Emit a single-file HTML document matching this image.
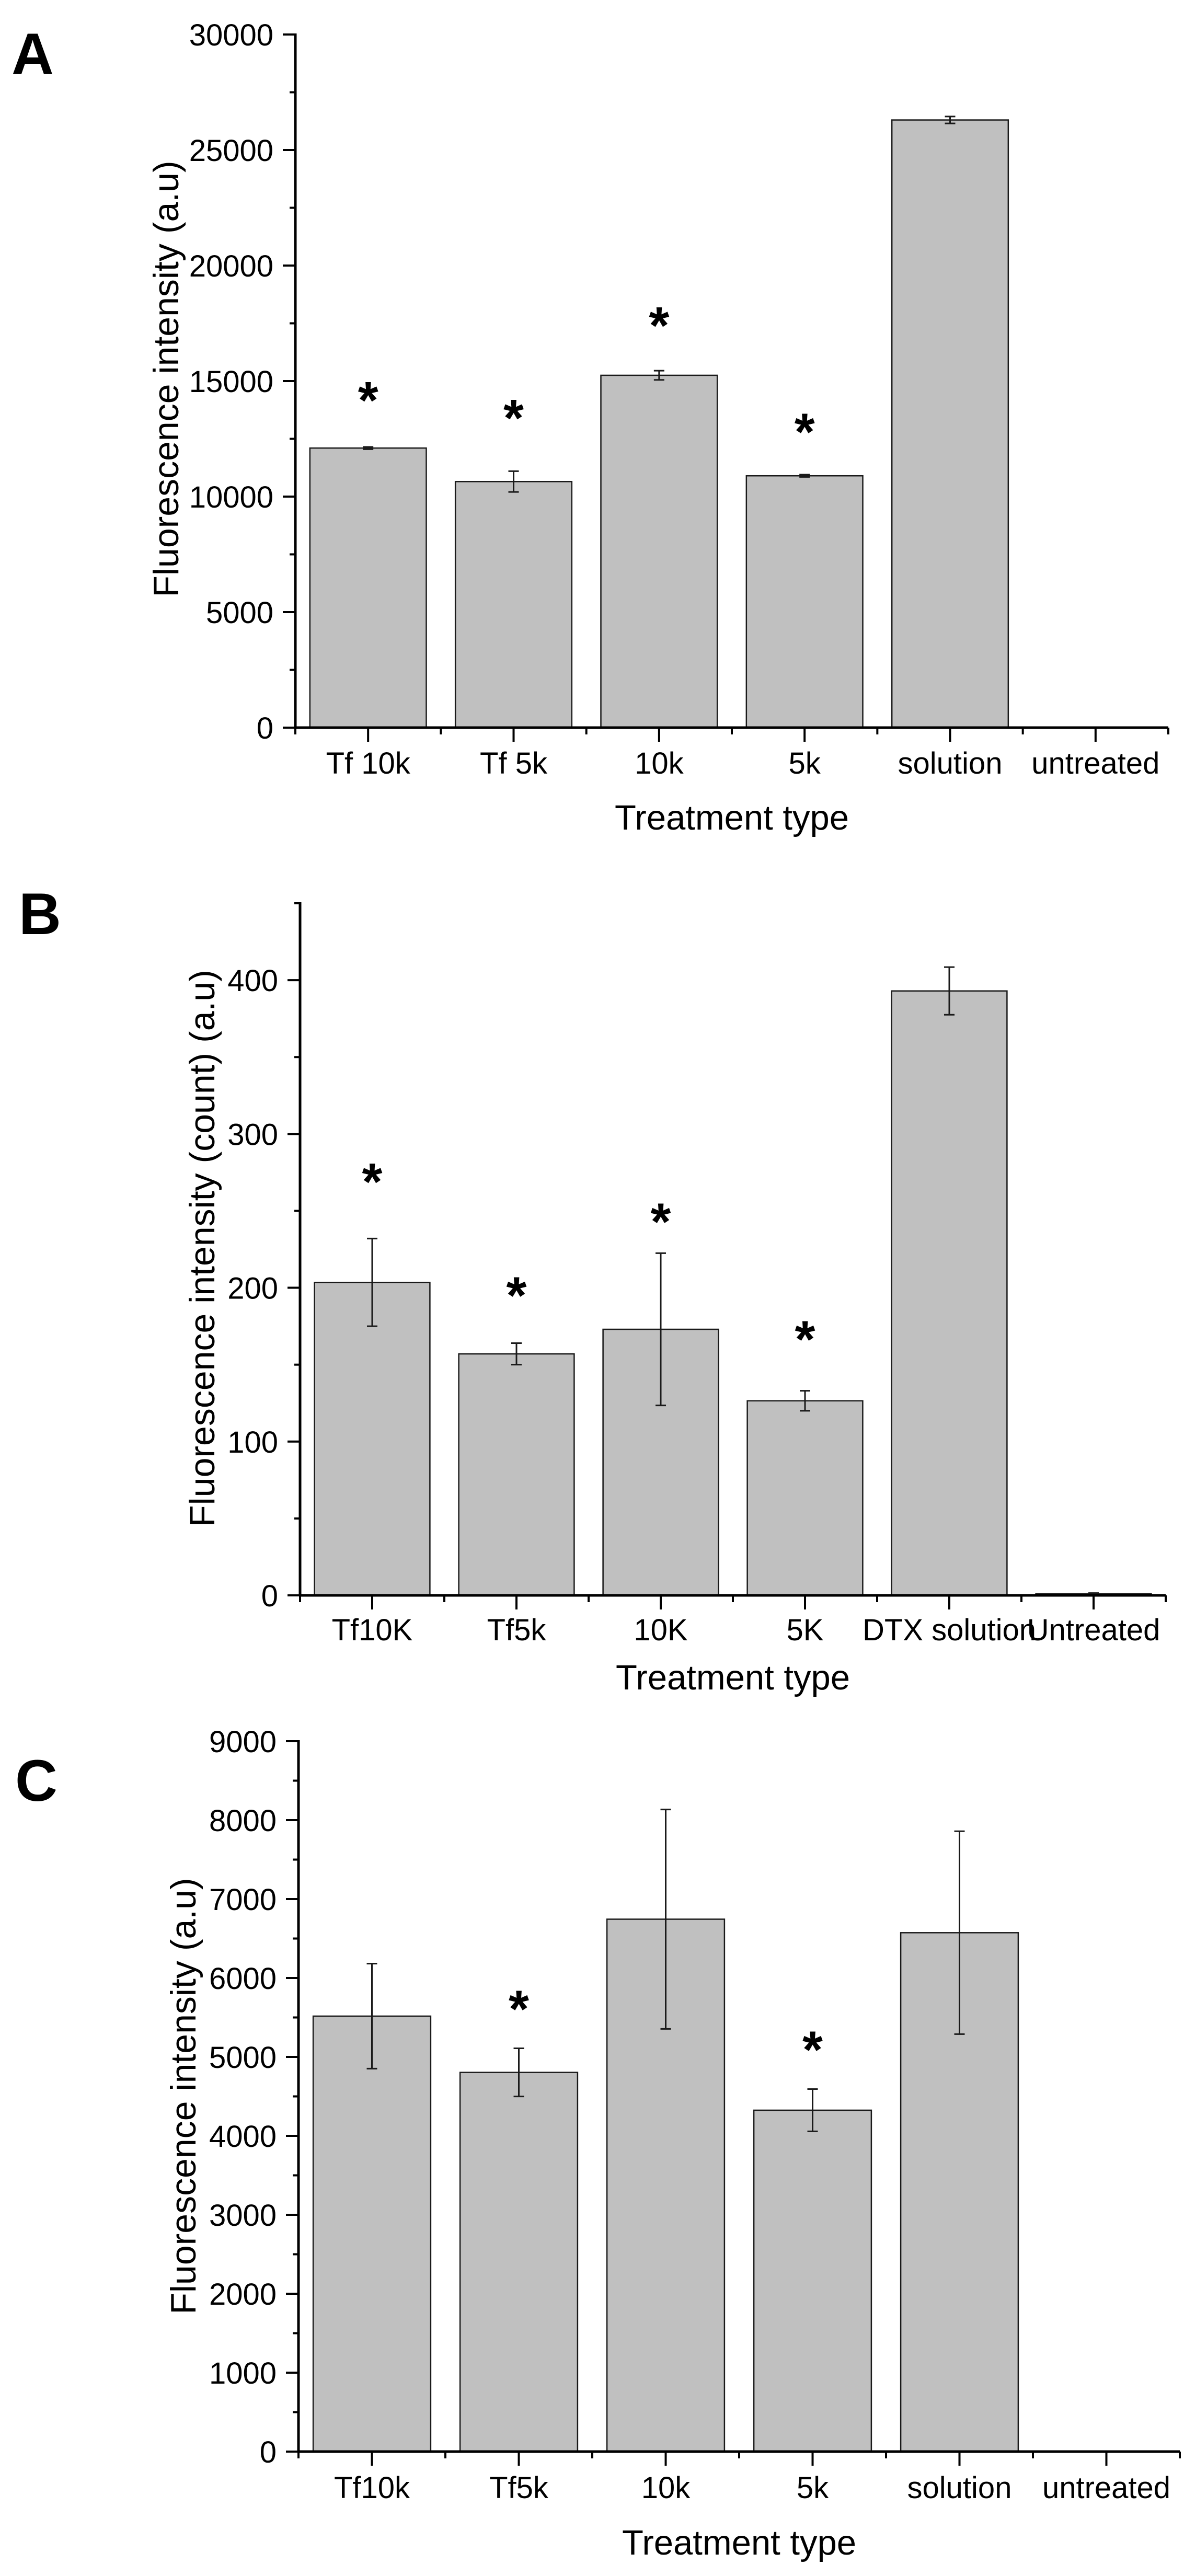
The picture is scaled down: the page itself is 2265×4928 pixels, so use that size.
<!DOCTYPE html>
<html><head><meta charset="utf-8"><style>
html,body{margin:0;padding:0;background:#fff;}
svg{display:block;font-family:"Liberation Sans",Arial,sans-serif;}
</style></head><body>
<svg id="fig" width="2265" height="4928" viewBox="0 0 2265 4928" xmlns="http://www.w3.org/2000/svg">
<rect x="0" y="0" width="2265" height="4928" fill="#fff"/>
</svg>
<script>
// Panel A data
const catsA = ["Tf 10k","Tf 5k","10k","5k","solution","untreated"];
const valsA = [12100,10650,15250,10900,26300,0];
const errsA = [50,450,200,50,150,0];
const starsA = [14570,13800,17800,13200,null,null];
const ticksA = [0,5000,10000,15000,20000,25000,30000];
// Panel B data
const catsB = ["Tf10K","Tf5k","10K","5K","DTX solution","Untreated"];
const valsB = [203.5,157,173,126.5,393,1];
const errsB = [28.5,7,49.5,6.5,15.5,0.5];
const starsB = [275,201,249,172.5,null,null];
const ticksB = [0,100,200,300,400];
// Panel C data
const catsC = ["Tf10k","Tf5k","10k","5k","solution","untreated"];
const valsC = [5517,4804,6745,4325,6574,0];
const errsC = [665,305,1390,268,1285,0];
const starsC = [null,5726,null,5210,null,null];
const ticksC = [0,1000,2000,3000,4000,5000,6000,7000,8000,9000];

const NS="http://www.w3.org/2000/svg";
const svg=document.getElementById('fig');
function mk(tag,attrs,parent){const e=document.createElementNS(NS,tag);for(const k in attrs)e.setAttribute(k,attrs[k]);(parent||svg).appendChild(e);return e;}

const panels=[
 {id:'a',letter:'A',lx:22,ly:142,ax:565,x1:2235,y0:1392,yTop:66,ymax:30000,minor:2500,cats:catsA,vals:valsA,errs:errsA,stars:starsA,ticks:ticksA,
  tickBase:1480,titleBase:1587,ytitle:"Fluorescence intensity (a.u)",ytx:317,yty:725},
 {id:'b',letter:'B',lx:36,ly:1787,ax:574,x1:2230,y0:3052,yTop:1728,ymax:450,minor:50,cats:catsB,vals:valsB,errs:errsB,stars:starsB,ticks:ticksB,
  tickBase:3138,titleBase:3232,ytitle:"Fluorescence intensity (count) (a.u)",ytx:386,yty:2388},
 {id:'c',letter:'C',lx:29,ly:3445,ax:571,x1:2257,y0:4690,yTop:3331,ymax:9000,minor:500,cats:catsC,vals:valsC,errs:errsC,stars:starsC,ticks:ticksC,
  tickBase:4779,titleBase:4887,ytitle:"Fluorescence intensity (a.u)",ytx:350,yty:4010}
];

panels.forEach(p=>{
  const g=mk('g',{});
  
  
  const n=p.cats.length;
  const step=(p.x1-p.ax)/n;
  const xs=i=>p.ax+step*(i+0.5);
  const ys=v=>p.y0-(v/p.ymax)*(p.y0-p.yTop);
  const bw=step*0.8;
  const L=mk('text',{x:p.lx,y:p.ly,'font-size':112,'font-weight':'bold',fill:'#000'},g);
  L.textContent=p.letter;
  
  
  p.vals.forEach((v,i)=>{
    const top=ys(v);
    const r=mk('rect',{x:xs(i)-bw/2,y:top,width:bw,height:Math.max(p.y0-top,0.5),fill:'#c0c0c0',stroke:'#1a1a1a','stroke-width':2.5},g);
    
    
    if(p.errs[i]>0){
      const eg=mk('g',{stroke:'#1a1a1a','stroke-width':3},g);
      
      
      const hi=ys(v+p.errs[i]),lo=ys(v-p.errs[i]),cx=xs(i);
      mk('line',{x1:cx,y1:hi,x2:cx,y2:lo},eg);
      mk('line',{x1:cx-10,y1:hi,x2:cx+10,y2:hi},eg);
      mk('line',{x1:cx-10,y1:lo,x2:cx+10,y2:lo},eg);
    }
    if(p.stars[i]!=null){
      const s=mk('text',{x:xs(i),y:ys(p.stars[i])+52,'font-size':100,'font-weight':'bold','text-anchor':'middle',fill:'#000'},g);
      s.textContent='*';
      
      
    }
    const t=mk('text',{x:xs(i),y:p.tickBase,'font-size':58,'text-anchor':'middle',fill:'#000'},g);
    t.textContent=p.cats[i];
    
    
  });
  const ax=mk('g',{stroke:'#000','stroke-width':5,fill:'none'},g);
  
  
  mk('line',{x1:p.ax,y1:p.yTop-2,x2:p.ax,y2:p.y0+2},ax);
  mk('line',{x1:p.ax-2,y1:p.y0,x2:p.x1,y2:p.y0},ax);
  const tk=mk('g',{stroke:'#000','stroke-width':4},g);
  for(let v=0;v<=p.ymax+1e-9;v+=p.minor){
    const isMajor=p.ticks.some(t=>Math.abs(t-v)<1e-6);
    mk('line',{x1:p.ax-(isMajor?24:11),y1:ys(v),x2:p.ax,y2:ys(v)},tk);
  }
  p.ticks.forEach(v=>{
    const t=mk('text',{x:p.ax-42,y:ys(v)+21,'font-size':58,'text-anchor':'end',fill:'#000'},g);
    t.textContent=String(v);
    
    
  });
  for(let i=0;i<=n;i++){
    const x=p.ax+step*i;
    mk('line',{x1:x,y1:p.y0,x2:x,y2:p.y0+13},tk);
    if(i<n) mk('line',{x1:xs(i),y1:p.y0,x2:xs(i),y2:p.y0+27},tk);
  }
  const xt=mk('text',{x:(p.ax+p.x1)/2,y:p.titleBase,'font-size':67,'text-anchor':'middle',fill:'#000'},g);
  xt.textContent='Treatment type';
  
  
  const yt=mk('text',{x:0,y:0,'font-size':68,'text-anchor':'middle','transform':'translate('+(p.ytx+24)+','+p.yty+') rotate(-90)',fill:'#000'},g);
  yt.textContent=p.ytitle;
  
  
});
</script>
</body></html>
